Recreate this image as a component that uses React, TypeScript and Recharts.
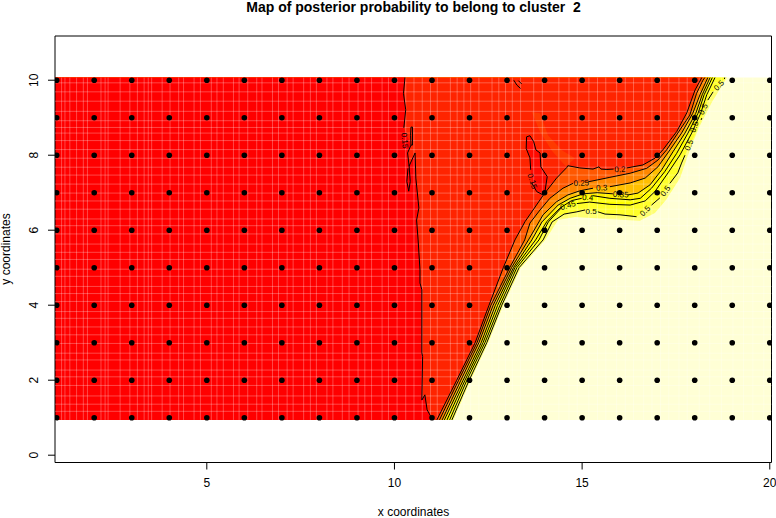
import { Area, ComposedChart, Line, ReferenceArea, ReferenceLine, Scatter, XAxis, YAxis } from "recharts";

type Pt = [number, number] | null;

const FONT = "'Liberation Sans', Arial, sans-serif";

const gridXs = [1, 2, 3, 4, 5, 6, 7, 8, 9, 10, 11, 12, 13, 14, 15, 16, 17, 18, 19, 20];
const gridYs = [1, 2, 3, 4, 5, 6, 7, 8, 9, 10];
const xTicks = [5, 10, 15, 20];
const yTicks = [0, 2, 4, 6, 8, 10];

// extent of the image part of the plot
const imgLeft = 0.955;
const imgRight = 20.046;
const imgBottom = 0.94;
const imgTop = 10.07;

// contours, read bottom to top, null = gap for a label
const level15: Pt[] = [
  [11.0, 0.94], [10.97, 1.03], [10.87, 1.21], [10.81, 1.61], [10.73, 1.47], [10.75, 2.63], [10.73, 2.73],
  [10.73, 4.41], [10.68, 4.59], [10.68, 4.94], [10.63, 5.74], [10.59, 6.27], [10.65, 6.59], [10.57, 7.39],
  [10.55, 8.06], [10.49, 7.93], [10.39, 7.71], [10.35, 8.06], [10.44, 8.27], null, [10.25, 8.73],
  [10.3, 9.21], [10.24, 9.65], [10.28, 10.07],
];
const level15LoopA: Pt[] = [[10.44, 8.75], [10.48, 8.75], [10.48, 8.27], [10.44, 8.27], [10.43, 8.53], [10.44, 8.75]];
const level15LoopB: Pt[] = [[10.39, 7.72], [10.42, 7.3], [10.38, 7.04], [10.33, 7.3], [10.36, 7.65]];
const level15Curl: Pt[] = [[13.18, 10.0], [13.26, 9.87], [13.36, 9.78], null, [13.39, 9.9], [13.3, 9.99]];
const island: Pt[] = [
  [13.52, 8.49], [13.61, 8.52], [13.71, 8.36], [13.77, 8.14], [13.88, 8.06], [13.9, 7.69], [14.07, 7.43],
  [14.01, 7.03], [13.96, 6.94], [13.79, 7.03], [13.66, 7.26], null, [13.63, 7.61], [13.61, 7.93],
  [13.51, 8.18], [13.52, 8.49],
];
const orangeTrail: Pt[] = [
  [13.66, 9.15], [13.88, 9.12], [14.09, 8.53], [14.46, 8.13], [14.81, 7.92], [14.57, 7.7], [14.2, 8.11],
  [13.88, 8.62], [13.66, 9.15],
];
const level20: Pt[] = [
  [11.13, 0.94], [11.66, 2], [12.15, 3], [12.52, 4], [12.9, 5], [13.21, 5.74], [13.48, 6.23], [13.97, 6.94],
  [14.32, 7.39], [14.59, 7.67], [14.62, 7.72], [14.94, 7.66], [15.29, 7.63], [15.37, 7.66], [15.45, 7.69],
  [15.5, 7.63], [15.66, 7.62], [15.84, 7.63], null, [16.19, 7.66], [16.62, 7.74], [16.94, 7.92], [17.15, 8.14],
  [17.52, 8.63], [17.79, 9.13], [18.01, 9.74], [18.19, 10.07],
];
const level25: Pt[] = [
  [11.2, 0.94], [11.71, 2], [12.2, 3], [12.57, 4], [13.07, 5], [13.47, 5.74], [13.61, 6.19], [13.88, 6.54],
  [14.14, 6.85], [14.49, 7.12], [14.76, 7.25], null, [15.16, 7.29], [15.74, 7.41], [16.28, 7.52], [16.72, 7.65],
  [17.02, 7.87], [17.25, 8.14], [17.55, 8.59], [17.87, 9.07], [18.05, 9.65], [18.22, 10.0], [18.27, 10.07],
];
const level30: Pt[] = [
  [11.27, 0.94], [11.77, 2], [12.25, 3], [12.63, 4], [13.12, 5], [13.57, 5.74], [13.96, 6.41], [14.32, 6.76],
  [14.62, 6.94], [14.94, 7.05], [15.29, 7.12], null, [15.74, 7.16], [16.28, 7.26], [16.68, 7.39], [17.02, 7.69],
  [17.34, 8.14], [17.65, 8.59], [17.95, 9.12], [18.14, 9.61], [18.35, 10.07],
];
const level35: Pt[] = [
  [11.33, 0.94], [11.83, 2], [12.31, 3], [12.69, 4], [13.17, 5], [13.66, 5.74], [13.93, 6.22], [14.36, 6.67],
  [14.68, 6.85], [15.03, 6.97], [15.4, 7.0], [15.82, 6.97], null, [16.22, 6.94], [16.49, 6.99], [16.81, 7.21],
  [17.12, 7.61], [17.42, 8.09], [17.74, 8.59], [18.03, 9.12], [18.2, 9.61], [18.41, 10.07],
];
const level40: Pt[] = [
  [11.4, 0.94], [11.88, 2], [12.36, 3], [12.75, 4], [13.21, 5], [13.76, 5.74], [14.06, 6.23], [14.41, 6.59],
  [14.72, 6.79], [14.99, 6.85], null, [15.29, 6.92], [15.74, 6.85], [16.28, 6.81], [16.55, 6.85], [16.85, 7.12],
  [17.2, 7.56], [17.52, 8.05], [17.82, 8.59], [18.09, 9.12], [18.25, 9.61], [18.47, 10.07],
];
const level45: Pt[] = [
  [11.47, 0.94], [11.93, 2], [12.41, 3], [12.81, 4], [13.26, 5], [13.85, 5.74], [14.1, 6.22], [14.46, 6.61],
  null, [14.86, 6.71], [15.2, 6.75], [15.74, 6.69], [16.28, 6.67], [16.68, 6.78], [16.94, 7.03], [17.29, 7.53],
  [17.61, 8.01], [17.92, 8.59], [18.16, 9.12], [18.32, 9.61], [18.54, 10.07],
];
const level50: Pt[] = [
  [11.53, 0.94], [11.99, 2], [12.46, 3], [12.86, 4], [13.32, 5], [13.96, 5.74], [14.2, 6.22], [14.52, 6.43],
  [14.86, 6.49], [15.08, 6.54], null, [15.42, 6.49], [15.61, 6.43], [16.01, 6.41], [16.45, 6.36], null,
  [16.85, 6.67], [17.07, 6.86], null, [17.34, 7.25], [17.55, 7.53], [17.65, 7.79], [17.74, 8.0], null,
  [17.98, 8.49], null, [18.17, 8.94], [18.19, 8.99], null, [18.35, 9.47], [18.49, 9.69], null,
  [18.79, 10.03], [18.8, 10.07],
];
const paleEdge: Pt[] = [
  [11.57, 0.94], [12.03, 2], [12.5, 3], [12.9, 4], [13.37, 5], [14.02, 5.74], [14.36, 6.27], [14.81, 6.35],
  [15.66, 6.3], [16.54, 6.25], [16.94, 6.46], [17.24, 6.81], [17.61, 7.39], [17.87, 8.14], [18.11, 8.73],
  [18.46, 9.42], [18.86, 10.07],
];

const contourLabels: [number, number, string, number][] = [
  [16.01, 7.63, "0.2", -3],
  [14.98, 7.27, "0.25", -3],
  [15.52, 7.14, "0.3", -3],
  [16.03, 6.96, "0.35", 3],
  [15.15, 6.88, "0.4", 3],
  [14.62, 6.67, "0.45", -18],
  [15.24, 6.52, "0.5", 0],
  [16.67, 6.52, "0.5", -45],
  [17.21, 7.05, "0.5", -55],
  [17.84, 8.27, "0.5", -70],
  [17.98, 8.76, "0.5", -72],
  [18.22, 9.23, "0.5", -65],
  [18.64, 9.87, "0.5", -45],
  [10.28, 8.39, "0.15", 85],
  [13.68, 7.31, "0.15", 72],
];

// pale seams between the image cells
const seamXs = [
  1.13, 1.22, 1.35, 1.53, 1.71, 1.82, 2.18, 2.29, 2.37, 2.69, 2.95, 3.15, 3.33, 3.44, 3.53, 3.81, 4.02, 4.25, 4.38,
  4.66, 4.83, 5.12, 5.27, 5.44, 5.71, 5.86, 6.09, 6.33, 6.47, 6.75, 6.91, 7.14, 7.3, 7.58, 7.76, 7.92, 8.2, 8.36,
  8.61, 8.79, 9.03, 9.21, 9.39, 9.67, 9.84, 10.07, 10.3, 10.52, 10.74, 10.96, 11.14, 11.49, 11.67, 11.85, 12.03,
  12.25, 12.6, 12.78, 12.96, 13.14, 13.36, 13.71, 13.94, 14.38, 14.65, 14.87, 15.18, 15.41, 15.63, 15.92, 16.15,
  16.37, 16.64, 16.86, 17.09, 17.31, 17.58, 17.8, 18.12, 18.4, 18.71, 19.02, 19.3, 19.55, 19.84,
];
const seamYs = [
  1.17, 1.36, 1.58, 1.86, 2.09, 2.27, 2.54, 2.72, 2.98, 3.21, 3.42, 3.65, 3.83, 4.1, 4.31, 4.5, 4.77, 4.96, 5.22,
  5.41, 5.63, 5.9, 6.12, 6.3, 6.56, 6.78, 6.99, 7.23, 7.47, 7.68, 7.92, 8.15, 8.39, 8.59, 8.74, 8.92, 9.17, 9.44,
  9.69, 9.93,
];

const gridPoints = gridXs.flatMap((x) => gridYs.map((y) => ({ x, y })));
const labelPoints = contourLabels.map(([x, y, text, angle]) => ({ x, y, text, angle }));

const toLine = (pts: Pt[]) => pts.map((p) => (p ? { x: p[0], y: p[1] } : { x: 0, y: null }));

// polygon: runs along the points, closes back along a flat base
const toRegion = (pts: Pt[], base: number, closeLeft = false) => {
  const solid = pts.filter(Boolean) as [number, number][];
  const path = closeLeft ? [...solid, [imgLeft, imgTop] as [number, number]] : solid;
  return path.map(([x, y]) => ({ x, band: [base, y] }));
};

const bands: [Pt[], string][] = [
  [paleEdge, "#FFFF70"],
  [level50, "#FFFF2A"],
  [level45, "#FFFF00"],
  [level40, "#FFEF00"],
  [level35, "#FFBF00"],
  [level30, "#FF8800"],
  [level25, "#FF5800"],
  [level20, "#FF2400"],
];
const contours = [level15, level15LoopA, level15LoopB, level15Curl, island, level20, level25, level30, level35, level40, level45, level50];

const baseRect = [
  { x: imgLeft, band: [imgBottom, imgTop] },
  { x: imgRight, band: [imgBottom, imgTop] },
];

const RotatedYTick = ({ x, y, payload }: any) => (
  <text x={x - 8} y={y} fontSize={12} fontFamily={FONT} fill="#000" textAnchor="middle" transform={`rotate(-90 ${x - 8} ${y})`}>
    {payload.value}
  </text>
);

export default function App() {
  return (
    <div style={{ position: "absolute", left: 0, top: 0 }}>
      <ComposedChart width={776} height={518} margin={{ top: 36, right: 4.5, bottom: 0, left: 0 }}>
        <XAxis
          type="number"
          dataKey="x"
          domain={[imgLeft, imgRight]}
          ticks={xTicks}
          allowDataOverflow
          axisLine={false}
          tickSize={7}
          tickLine={{ stroke: "#000" }}
          tick={{ fontSize: 12, fill: "#000", fontFamily: FONT }}
          tickMargin={9}
          height={55.5}
        />
        <YAxis
          type="number"
          dataKey="y"
          domain={[-0.195, 11.179]}
          ticks={yTicks}
          allowDataOverflow
          axisLine={false}
          tickSize={7}
          tickLine={{ stroke: "#000" }}
          tick={<RotatedYTick />}
          width={55}
        />

        <Area data={baseRect} dataKey="band" type="linear" fill="#FFFFD5" fillOpacity={1} stroke="none" dot={false} isAnimationActive={false} />
        {bands.map(([pts, color], i) => (
          <Area key={i} data={toRegion(pts, imgBottom, true)} dataKey="band" type="linear" fill={color} fillOpacity={1} stroke="none" dot={false} isAnimationActive={false} />
        ))}
        <Area data={toRegion(orangeTrail, 7.7)} dataKey="band" type="linear" fill="#FF3A00" fillOpacity={1} stroke="none" dot={false} isAnimationActive={false} />
        <Area data={toRegion(level15, imgBottom, true)} dataKey="band" type="linear" fill="#FF0000" fillOpacity={1} stroke="none" dot={false} isAnimationActive={false} />
        <Area data={toRegion(island, 6.94)} dataKey="band" type="linear" fill="#FF0A00" fillOpacity={1} stroke="none" dot={false} isAnimationActive={false} />

        {seamXs.map((x) => (
          <ReferenceLine key={`sx${x}`} segment={[{ x, y: imgBottom }, { x, y: imgTop }]} stroke="#fff" strokeOpacity={0.28} strokeWidth={1} />
        ))}
        {seamYs.map((y) => (
          <ReferenceLine key={`sy${y}`} segment={[{ x: imgLeft, y }, { x: imgRight, y }]} stroke="#fff" strokeOpacity={0.28} strokeWidth={1} />
        ))}

        {contours.map((pts, i) => (
          <Line key={i} data={toLine(pts)} dataKey="y" type="linear" stroke="#000" strokeWidth={1} dot={false} connectNulls={false} isAnimationActive={false} />
        ))}

        <Scatter
          data={gridPoints}
          isAnimationActive={false}
          shape={(p: any) => <circle cx={p.cx} cy={p.cy} r={2.8} fill="#000" />}
        />
        <Scatter
          data={labelPoints}
          isAnimationActive={false}
          shape={(p: any) => (
            <text
              x={p.cx}
              y={p.cy}
              dy={3}
              fontSize={8}
              fontFamily={FONT}
              fill="#000"
              textAnchor="middle"
              transform={`rotate(${p.payload.angle} ${p.cx} ${p.cy})`}
            >
              {p.payload.text}
            </text>
          )}
        />

        <ReferenceArea x1={imgLeft} x2={imgRight} y1={-0.195} y2={11.179} fill="none" stroke="#000" strokeWidth={1} />

        <text x={413.5} y={12} textAnchor="middle" fontFamily={FONT} fontSize={14} fontWeight="bold" fill="#000">
          {"Map of posterior probability to belong to cluster\u00A0\u00A02"}
        </text>
        <text x={413.5} y={516} textAnchor="middle" fontFamily={FONT} fontSize={12} fill="#000">
          x coordinates
        </text>
        <text x={10} y={249} textAnchor="middle" fontFamily={FONT} fontSize={12} fill="#000" transform="rotate(-90 10 249)">
          y coordinates
        </text>
      </ComposedChart>
    </div>
  );
}
